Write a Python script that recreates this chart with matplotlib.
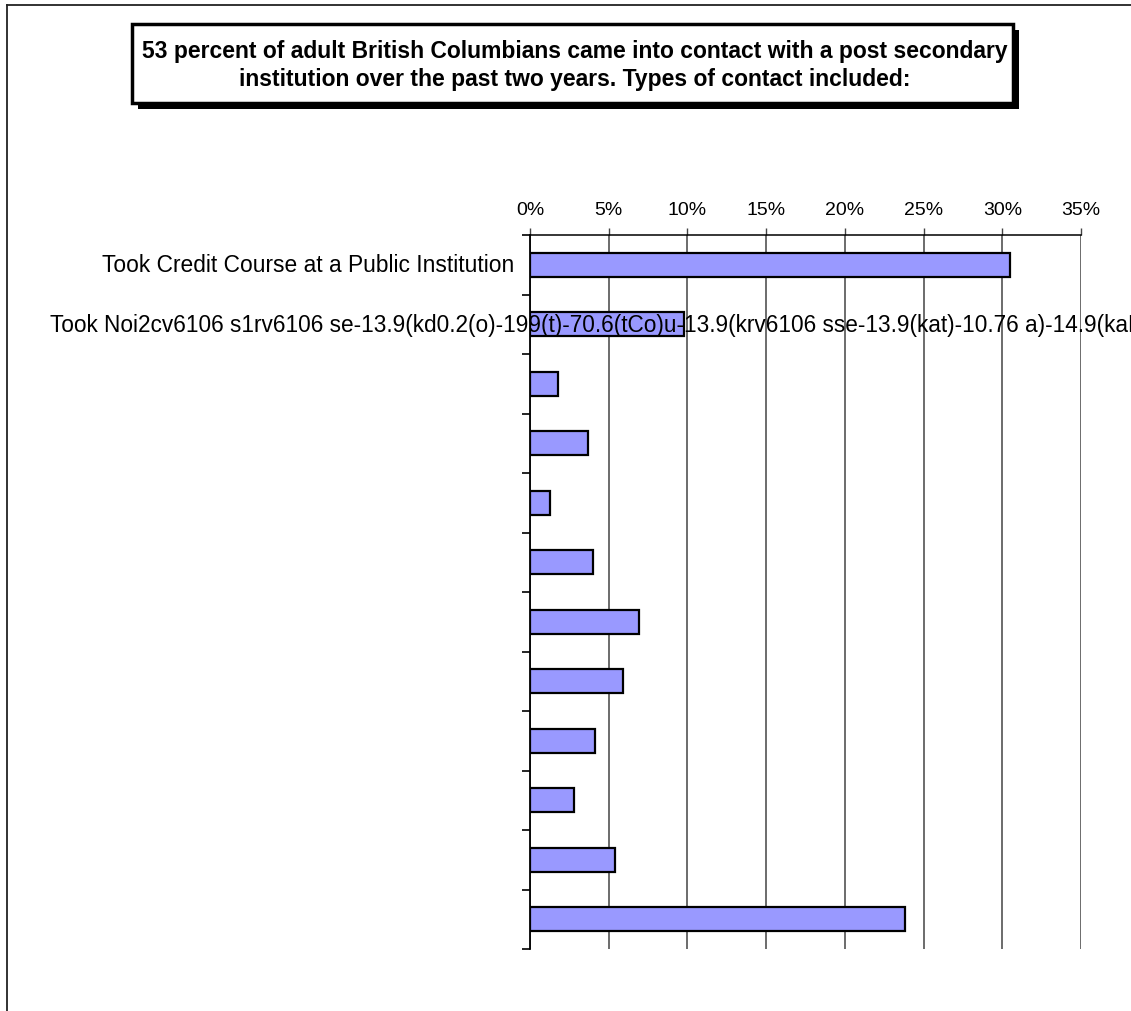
import matplotlib
matplotlib.use("Agg")
import matplotlib.pyplot as plt
import matplotlib.transforms as mtransforms
from matplotlib.patches import Rectangle
from matplotlib.lines import Line2D
from matplotlib.ticker import FuncFormatter

plt.rcParams['font.family'] = ['Liberation Sans', 'DejaVu Sans']

# Contact types (only the first two carry visible labels) and shares
categories = [
    "Took Credit Course at a Public Institution",
    "Took Noi2cv6106 s1rv6106 se-13.9(kd0.2(o)-199(t)-70.6(tCo)u-13.9(krv6106 sse-13.9(kat)-10.76 a)-14.9(kaF",
    "", "", "", "", "", "", "", "", "", "",
]
shares = [0.305, 0.098, 0.018, 0.037, 0.013, 0.040, 0.069, 0.059, 0.041, 0.028, 0.054, 0.238]
x_ticks = [0.00, 0.05, 0.10, 0.15, 0.20, 0.25, 0.30, 0.35]
title_text = ("53 percent of adult British Columbians came into contact with a post secondary\n"
              "institution over the past two years. Types of contact included:")

W, H = 1131, 1012
fig = plt.figure(figsize=(W / 100, H / 100), dpi=100)
fig.patch.set_facecolor("white")


def fx(px):
    return px / W


def fy(py):
    return 1 - py / H


# outer chart frame (top and left edges visible)
fig.add_artist(Line2D([fx(7), 1.0], [fy(6), fy(6)], transform=fig.transFigure,
                      color="#222222", lw=1.3))
fig.add_artist(Line2D([fx(7), fx(7)], [fy(6), 0.0], transform=fig.transFigure,
                      color="#222222", lw=1.3))

# title box with drop shadow
bx0, bx1, by0, by1 = 132, 1013, 25, 104
shadow = Rectangle((fx(bx0 + 6), fy(by1 + 6)), fx(bx1) - fx(bx0), fy(by0) - fy(by1),
                   transform=fig.transFigure, facecolor="black", edgecolor="black", lw=0)
box = Rectangle((fx(bx0), fy(by1)), fx(bx1) - fx(bx0), fy(by0) - fy(by1),
                transform=fig.transFigure, facecolor="white", edgecolor="black", lw=2.5)
fig.add_artist(shadow)
fig.add_artist(box)
fig.text(fx((bx0 + bx1) / 2 + 2), fy((by0 + by1) / 2 + 1), title_text, ha="center", va="center",
         fontsize=16.5, fontweight="bold", linespacing=1.25)

# plot area
ax = fig.add_axes([fx(530), fy(950), fx(1081) - fx(530), fy(236) - fy(950)])
ax.set_facecolor("none")
positions = list(range(len(shares)))
ax.barh(positions, shares, height=0.4, color="#9999FF", edgecolor="black",
        linewidth=1.6, zorder=3)

ax.set_xlim(0, 0.35)
ax.set_ylim(len(shares) - 0.5, -0.5)
ax.set_xticks(x_ticks)
ax.xaxis.set_major_formatter(FuncFormatter(lambda v, _: f"{v * 100:.0f}%"))
ax.xaxis.tick_top()
ax.tick_params(axis="x", direction="out", length=5, width=1, color="#444444",
               labelsize=14, pad=7)
ax.grid(axis="x", color="#444444", lw=1.1, zorder=1)

ax.set_yticks([p - 0.5 for p in positions] + [len(shares) - 0.5])
ax.set_yticklabels([])
ax.tick_params(axis="y", direction="out", length=6, width=1.2, color="black")

for side in ("right", "bottom"):
    ax.spines[side].set_visible(False)
ax.spines["top"].set_color("black")
ax.spines["top"].set_linewidth(1.1)
ax.spines["left"].set_color("black")
ax.spines["left"].set_linewidth(1.3)

# category labels: short ones sit left of the axis gap, long ones start at the chart edge
trans = mtransforms.blended_transform_factory(fig.transFigure, ax.transData)
for pos, label in zip(positions, categories):
    if not label:
        continue
    if len(label) > 60:
        ax.text(fx(50), pos, label, transform=trans, ha="left", va="center",
                fontsize=16.3, zorder=4, clip_on=False)
    else:
        ax.text(fx(514), pos, label, transform=trans, ha="right", va="center",
                fontsize=16.4, zorder=4, clip_on=False)

fig.savefig("out.png", dpi=100, facecolor="white")
